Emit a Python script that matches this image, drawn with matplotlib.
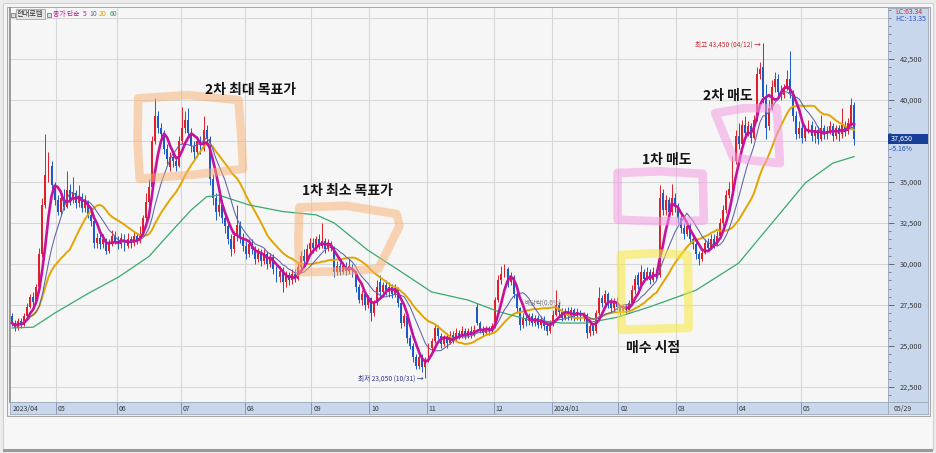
import matplotlib
matplotlib.use('Agg')
import matplotlib.pyplot as plt
import matplotlib.transforms as mtransforms
from matplotlib.patches import Rectangle, Polygon
from matplotlib.ticker import MultipleLocator
import numpy as np
import pandas as pd

plt.rcParams['font.family'] = ['Noto Sans CJK KR', 'DejaVu Sans']

# ---------------- data (daily candles, 2023/04 .. 2024/05/29) ----------------
opens = [
    # 2023/04
    26800, 26400, 26100, 26500, 26300, 26800, 27400, 28000, 27700, 28600, 30600, 33600, 35400, 36000, 34800,
    # 05
    33900, 33200, 34000, 33500, 34500, 33900, 34300, 33700, 34100, 33400, 33800, 33000, 32600, 31300, 31600, 31200, 31500, 30800, 31300, 31700,
    # 06
    31400, 31200, 31600, 31100, 31500, 31300, 31700, 31400, 31800, 32800, 33800, 34700, 37500, 39000, 38300, 37900, 37000, 35900, 36500, 36300, 36000,
    # 07
    37500, 38300, 38800, 38000, 37200, 36800, 37500, 37000, 38200, 37600, 35200, 34000, 33200, 33600, 32800, 32300, 31500, 30900, 31700, 32400, 31600,
    # 08
    31100, 30600, 31200, 30900, 30300, 30700, 30200, 30600, 30000, 30400, 29700, 29200, 29600, 28900, 29300, 29000, 29400, 29100, 29800, 30500, 30200, 30900,
    # 09
    31300, 31000, 31500, 31100, 31400, 30900, 31300, 31000, 29500, 29900, 29500, 29900, 29600, 29900, 29500, 28600, 27800, 28200, 27500,
    # 10
    27900, 27000, 27600, 28900, 28300, 28700, 28300, 28600, 28200, 28500, 27600, 26400, 26800, 25500, 25000, 24300, 23800, 24300, 23700,
    # 11
    24100, 24900, 25300, 26100, 25600, 25100, 25500, 25200, 25700, 25400, 25800, 25600, 25900, 25600, 25900, 25700, 27400, 26400, 26000, 25800, 26000, 25900,
    # 12
    26200, 27800, 29000, 29400, 29700, 28900, 29200, 28200, 27300, 26300, 26700, 26500, 26800, 26400, 26700, 26300, 26600, 26200, 25900,
    # 2024/01
    26400, 26900, 27500, 27100, 26700, 27100, 26800, 27200, 26800, 27100, 26700, 26900, 25800, 26200, 25900, 27000, 27900, 27600, 28200, 27600, 27300, 27700,
    # 02
    27400, 27100, 27300, 27200, 27600, 28400, 29300, 28700, 29500, 29100, 29500, 29000, 29500, 29300, 34300, 33300, 33900, 33200, 34000,
    # 03
    33500, 32800, 32200, 31800, 32300, 31500, 31200, 30600, 30300, 30700, 31300, 31000, 31500, 31200, 31700, 32500, 33300, 34200, 34600, 36300,
    # 04
    37800, 37300, 38500, 38000, 38400, 37700, 38800, 41600, 42000, 40200, 38400, 39500, 40800, 41300, 40500, 40300, 40700, 41300, 40400, 39000, 37900,
    # 05
    38300, 37700, 38200, 38500, 37800, 38200, 37600, 38300, 37900, 38100, 38400, 37800, 38300, 37900, 38500, 38100, 38600, 39700,
]
highs = [
    27000, 26600, 26700, 26700, 27000, 27600, 28200, 28300, 28800, 31000, 34000, 37900, 36800, 36300, 35000,
    34200, 34400, 34600, 35700, 34900, 35300, 34500, 34800, 34300, 34200, 33900, 33200, 32800, 31900, 31800, 31800, 31600, 31500, 32100, 32000,
    31700, 31900, 31800, 31900, 31700, 32000, 31900, 32300, 33000, 34300, 35200, 37800, 40100, 39300, 38600, 38200, 37300, 36800, 36900, 36600, 37800,
    39600, 39300, 39500, 38300, 37500, 37800, 37800, 39000, 38500, 37800, 35500, 34300, 34100, 33900, 33100, 32500, 31800, 32000, 33600, 32600, 31900,
    31400, 31500, 31500, 31100, 31000, 30900, 30900, 30800, 30700, 30600, 29900, 29900, 29800, 29600, 29500, 29700, 29700, 30100, 30800, 30900, 31200, 31600,
    31600, 31700, 31800, 32500, 31600, 31500, 31400, 31100, 30200, 30100, 30100, 30100, 30300, 30000, 29600, 28800, 28400, 28300, 28100,
    28000, 27800, 29000, 29300, 28900, 29000, 28900, 28800, 28800, 28600, 27700, 27000, 26900, 25700, 25200, 24500, 24500, 24500, 24300,
    25200, 25500, 26300, 26300, 25800, 25700, 25800, 25900, 25900, 26100, 26000, 26200, 26100, 26100, 26200, 26300, 27600, 26500, 26200, 26200, 26200, 26400,
    28000, 29300, 29900, 30000, 29800, 29500, 29300, 28400, 27400, 27000, 26900, 27000, 27000, 26900, 26900, 26800, 26800, 26400, 26600,
    27200, 28400, 27700, 27300, 27300, 27400, 27400, 27300, 27300, 27200, 27100, 27000, 26400, 26300, 27200, 28600, 28100, 28400, 28300, 27900, 27900, 28000,
    27500, 27500, 27500, 27800, 28700, 29300, 29500, 29950, 29700, 29800, 29700, 29800, 29700, 34800, 34600, 34200, 34100, 34900, 34300,
    33700, 33000, 32500, 32600, 32500, 31800, 31400, 30800, 30900, 31500, 31600, 31800, 31800, 32000, 32800, 33600, 34500, 35000, 36600, 38200,
    38600, 38800, 39000, 38700, 38600, 39100, 42000, 42300, 43450, 41000, 40000, 41200, 41700, 41600, 40900, 41000, 41800, 43000, 40600, 39300, 38700,
    38600, 38500, 38800, 38700, 38400, 38400, 39100, 38500, 38400, 38700, 38600, 38500, 38500, 39500, 38700, 38900, 40100, 39900,
]
lows = [
    26200, 25900, 26000, 26100, 26200, 26700, 27300, 27500, 27600, 28500, 30400, 33400, 35000, 34500, 33600,
    33000, 33000, 33300, 33400, 33600, 33700, 33400, 33500, 33200, 33200, 32800, 32300, 31000, 31000, 30900, 31000, 30600, 30700, 31100, 31200,
    30900, 31000, 30800, 31000, 31000, 31100, 31200, 31300, 31700, 32700, 33600, 34500, 37300, 38000, 37600, 36700, 36100, 35700, 35900, 35700, 35900,
    37300, 38000, 37800, 36800, 36400, 36500, 36700, 36900, 37300, 34800, 33600, 32700, 32900, 32500, 31900, 31200, 30500, 30700, 31400, 31300, 30800,
    30300, 30400, 30600, 30000, 30100, 29900, 30000, 29700, 29800, 29400, 28900, 28900, 28300, 28600, 28700, 28800, 28900, 29000, 29700, 29900, 30100, 30700,
    30700, 30800, 30900, 31000, 30700, 30800, 30800, 29200, 29300, 29300, 29400, 29300, 29400, 29200, 28300, 27600, 27500, 27200, 27300,
    26500, 26800, 27500, 28000, 28000, 28100, 28000, 27900, 28000, 27400, 26100, 26200, 25200, 24800, 24000, 23600, 23600, 23400, 23050,
    24000, 24700, 25200, 25400, 24900, 25000, 24900, 25100, 25200, 25300, 25400, 25500, 25400, 25500, 25500, 25600, 26300, 25800, 25600, 25700, 25700, 25800,
    26100, 27700, 28800, 29200, 28600, 28700, 27900, 27000, 26000, 26100, 26200, 26300, 26200, 26200, 26100, 26100, 26000, 25700, 25800,
    26200, 26800, 26900, 26500, 26600, 26600, 26600, 26500, 26600, 26500, 26500, 25500, 25600, 25700, 25800, 26900, 27400, 27400, 27300, 27000, 27100, 27200,
    26900, 27000, 27000, 27100, 27500, 28200, 28500, 28600, 28900, 29000, 28800, 28900, 29100, 29200, 33000, 33000, 32900, 33000, 33200,
    32500, 31900, 31500, 31700, 31200, 30900, 30300, 29950, 30200, 30600, 30800, 30900, 31000, 31100, 31600, 32300, 33100, 34000, 34500, 36100,
    37000, 37100, 37700, 37800, 37400, 37600, 38700, 41300, 39800, 37600, 38200, 39400, 40500, 40200, 40000, 40100, 40600, 40100, 38700, 37600, 37700,
    37400, 37500, 38000, 37500, 37400, 37300, 37500, 37600, 37600, 37900, 37500, 37600, 37500, 37700, 37800, 37900, 38400, 37250,
]
closes = [
    26400, 26100, 26500, 26300, 26800, 27400, 28000, 27700, 28600, 30600, 33600, 35400, 36200, 34800, 33900,
    33200, 34000, 33500, 34500, 33900, 34300, 33700, 34100, 33400, 33800, 33000, 32600, 31300, 31600, 31200, 31500, 30800, 31300, 31700, 31400,
    31200, 31600, 31100, 31500, 31300, 31700, 31400, 31800, 32800, 33800, 34700, 37500, 39000, 38300, 37900, 37000, 36400, 36500, 36300, 36000, 37500,
    38300, 38800, 38000, 37200, 36800, 37500, 37000, 38200, 37600, 35200, 34000, 33200, 33600, 32800, 32300, 31500, 30900, 31700, 32400, 31600, 31100,
    30600, 31200, 30900, 30300, 30700, 30200, 30600, 30000, 30400, 29700, 29200, 29600, 28900, 29300, 29000, 29400, 29100, 29800, 30500, 30200, 30900, 31300,
    31000, 31500, 31100, 31400, 30900, 31300, 31000, 29500, 29900, 29500, 29900, 29600, 29900, 29500, 28600, 27800, 28200, 27500, 27900,
    27000, 27600, 28600, 28300, 28700, 28300, 28600, 28200, 28500, 27600, 26400, 26800, 25500, 25000, 24300, 23800, 24300, 23700, 24100,
    24900, 25300, 26100, 25600, 25100, 25500, 25200, 25700, 25400, 25800, 25600, 25900, 25600, 25900, 25700, 26000, 26400, 26000, 25800, 26000, 25900, 26200,
    27800, 29000, 29400, 29700, 28900, 29200, 28200, 27300, 26300, 26700, 26500, 26800, 26400, 26700, 26300, 26600, 26200, 25900, 26400,
    26900, 27500, 27100, 26700, 27100, 26800, 27200, 26800, 27100, 26700, 26900, 25800, 26200, 25900, 27000, 27900, 27600, 28200, 27600, 27300, 27700, 27400,
    27100, 27300, 27200, 27600, 28400, 29100, 28700, 29500, 29100, 29500, 29000, 29500, 29300, 34000, 33300, 33900, 33200, 34000, 33500,
    32800, 32200, 31800, 32300, 31500, 31200, 30600, 30300, 30700, 31300, 31000, 31500, 31200, 31700, 32500, 33300, 34200, 34600, 36300, 37800,
    37300, 38500, 38000, 38400, 37700, 38800, 41600, 41900, 40200, 38300, 39500, 40800, 41300, 40500, 40300, 40700, 41300, 40400, 39000, 37900, 38300,
    37700, 38200, 38500, 37800, 38200, 37600, 38300, 37900, 38100, 38400, 37800, 38300, 37900, 38500, 38100, 38600, 39700, 37650,
]

# 60-day moving average (trading-day index, price)
ma60_idx = [0, 7, 14, 25, 35, 45, 53, 59, 64, 68, 78, 89, 100, 106, 117, 127, 138, 150,
            160, 170, 181, 189, 199, 210, 225, 239, 250, 261, 270, 277]
ma60_val = [26100, 26150, 27000, 28200, 29200, 30450, 32100, 33300, 34100, 34200, 33600, 33200,
            33000, 32500, 30850, 29650, 28300, 27800, 27100, 26600, 26400, 26400, 26750, 27400,
            28400, 30050, 32500, 34950, 36150, 36550]

month_labels = ['2023/04', '05', '06', '07', '08', '09', '10', '11', '12',
                '2024/01', '02', '03', '04', '05']
month_start = [0, 15, 35, 56, 77, 99, 118, 137, 159, 178, 200, 219, 239, 260]
last_date = '05/29'
# 37,500 label is hidden behind the current-price box in the reference
price_ticks = [22500, 25000, 27500, 30000, 32500, 35000, 40000, 42500]
grid_prices = [22500, 25000, 27500, 30000, 32500, 35000, 37500, 40000, 42500, 45000]

high_note = '최고 43,450 (04/12) →'
low_note = '최저 23,050 (10/31) →'

# hand-drawn highlight boxes (trading-day index, price) and their notes
box_orange1 = [(41.5, 40100), (58, 40300), (74.5, 40000), (75.5, 37600), (76, 35800),
               (60, 35450), (42, 35200), (41.3, 37600)]
box_orange2 = [(94.5, 33450), (110, 33550), (126.5, 33050), (127.5, 32350),
               (120.5, 29700), (108, 29550), (94.5, 29500), (94.2, 31500)]
box_pink1 = [(199.2, 35550), (213, 35650), (227.2, 35500), (227.6, 32650),
             (213, 32600), (199.2, 32700)]
box_pink2 = [(231.3, 39200), (241, 39500), (251.6, 39500), (252.6, 36150),
             (244, 36300), (237.2, 36500)]
box_yellow = [(200.3, 30550), (211, 30650), (222.3, 30550), (222.6, 26100),
              (211, 26050), (200.5, 26000)]
notes = [
    ('2차 최대 목표가', 78.3, 40620),
    ('1차 최소 목표가', 110.5, 34460),
    ('1차 매도', 215.5, 36330),
    ('2차 매도', 235.5, 40230),
    ('매수 시점', 210.9, 24870),
]

# ---------------- figure / layout ----------------
W, H = 936, 453
fig = plt.figure(figsize=(W / 100, H / 100), dpi=100)
fig.patch.set_facecolor('#ececec')


def rect(x0, y0, x1, y1):
    return [x0 / W, 1 - y1 / H, (x1 - x0) / W, (y1 - y0) / H]


fig.add_artist(Rectangle((3 / W, 1 - 449 / H), 930 / W, 446 / H, transform=fig.transFigure,
                         facecolor='#f7f7f7', edgecolor='#d0d0d0', lw=0.8, zorder=-10))
fig.add_artist(Rectangle((3 / W, 1 - 452 / H), 930 / W, 3 / H, transform=fig.transFigure,
                         facecolor='#9a9a9a', edgecolor='none', zorder=-10))
fig.add_artist(Rectangle((7 / W, 1 - 416 / H), 923 / W, 409 / H, transform=fig.transFigure,
                         facecolor='#f3f3f3', edgecolor='#a8a8a8', lw=0.8, zorder=-9))

STEP = 3.04
XL = ((10 - 12) / STEP, (888 - 12) / STEP)
PX_PER_2500 = 41.0
YL = (40000 - (402 - 100) * 2500 / PX_PER_2500, 40000 + (100 - 8) * 2500 / PX_PER_2500)

ax = fig.add_axes(rect(10, 8, 888, 402))
ax.set_xlim(*XL)
ax.set_ylim(*YL)
ax.set_facecolor('#f6f6f6')
ax.set_xticks([m - 0.5 for m in month_start[1:]])
ax.set_yticks(grid_prices)
ax.grid(True, color='#d7d7d7', lw=0.8)
ax.set_axisbelow(True)
ax.tick_params(length=0, labelbottom=False, labelleft=False)
for side in ['top', 'right', 'bottom']:
    ax.spines[side].set_visible(False)
ax.spines['left'].set_color('#8a8a8a')
ax.spines['left'].set_linewidth(1.2)

o = np.array(opens)
h = np.array(highs)
l = np.array(lows)
c = np.array(closes)
N = len(c)
idx = np.arange(N)
RED, BLUE = '#de1f2c', '#1c5ac4'
cols = np.where(c >= o, RED, BLUE)
ax.vlines(idx, l, h, colors=cols, lw=0.7, zorder=2)
ax.bar(idx, np.maximum(np.abs(c - o), 70), bottom=np.minimum(o, c), width=0.62,
       color=cols, linewidth=0, zorder=3)

s = pd.Series(c, dtype=float)
ax.plot(idx, s.rolling(20, min_periods=1).mean(), color='#e3a500', lw=1.4, zorder=4)
ax.plot(ma60_idx, ma60_val, color='#3aa96c', lw=0.9, zorder=4)
ax.plot(idx, s.rolling(10, min_periods=1).mean(), color='#5e62ab', lw=0.75, zorder=5)
ax.plot(idx, s.rolling(5, min_periods=1).mean(), color='#c4129d', lw=1.9, zorder=6)

# highlight boxes
for pts, col, a in [(box_orange1, '#f9b070', 0.5), (box_orange2, '#f9b070', 0.5),
                    (box_pink1, '#f49be3', 0.55), (box_pink2, '#f49be3', 0.55),
                    (box_yellow, '#f6e83a', 0.55)]:
    ax.add_patch(Polygon(pts, closed=True, fill=False, edgecolor=col, lw=6.2, alpha=a,
                         joinstyle='round', capstyle='round', zorder=7))

for txt, xx, yy in notes:
    ax.text(xx, yy, txt, fontsize=10, fontweight='bold', ha='center', va='center',
            color='#151515', zorder=8)

imax = int(np.argmax(h))
imin = int(np.argmin(l))
ax.text(imax - 0.6, h[imax] - 100, high_note, fontsize=4.8, color='#c4262e', ha='right',
        va='center', zorder=8)
ax.text(imin - 0.6, l[imin] - 50, low_note, fontsize=4.8, color='#2a3590', ha='right',
        va='center', zorder=8)
ax.text(168.5, 27600, '배당락(0.6%)', fontsize=4.6, color='#777777', ha='left',
        va='center', zorder=8)

# legend header
fig.add_artist(Rectangle((11 / W, 1 - 17 / H), 4 / W, 4 / H, transform=fig.transFigure,
                         facecolor='#dddddd', edgecolor='#666', lw=0.5))
fig.text(17 / W, 1 - 14 / H, '현대로템', fontsize=5.2, color='#333', va='center',
         bbox=dict(boxstyle='square,pad=0.15', fc='#e4e4e4', ec='#999', lw=0.5))
fig.add_artist(Rectangle((47 / W, 1 - 17 / H), 4 / W, 4 / H, transform=fig.transFigure,
                         facecolor='#dddddd', edgecolor='#666', lw=0.5))
for txt, xp, colr in [('종가 단순', 53, '#c4129d'), ('5', 83, '#c4129d'), ('10', 89, '#5e62ab'),
                      ('20', 99, '#d9a400'), ('60', 110, '#2f9a5e')]:
    fig.text(xp / W, 1 - 14 / H, txt, fontsize=4.9, color=colr, va='center')

# right price panel
axr = fig.add_axes(rect(888, 8, 928, 402))
axr.set_facecolor('#c8d7ec')
axr.set_ylim(*YL)
axr.set_xlim(0, 1)
axr.set_xticks([])
axr.set_yticks(price_ticks)
axr.set_yticklabels([f'{v:,}' for v in price_ticks])
axr.yaxis.set_minor_locator(MultipleLocator(500))
axr.tick_params(axis='y', which='major', direction='in', length=4, width=0.6, pad=-25,
                labelsize=5.3, colors='#555', labelcolor='#3a3a3a')
axr.tick_params(axis='y', which='minor', direction='in', length=2, width=0.5, colors='#666')
for sp in axr.spines.values():
    sp.set_color('#9aa6b8')
    sp.set_linewidth(0.6)

last = c[-1]
chg = (c[-1] - c[-2]) / c[-2] * 100
half = 5.0 * 2500 / PX_PER_2500
axr.add_patch(Rectangle((0, last - half), 1, 2 * half, facecolor='#173f98', edgecolor='none',
                        zorder=3))
trans = mtransforms.blended_transform_factory(axr.transAxes, axr.transData)
axr.text(0.06, last, f'{last:,}', transform=trans, fontsize=5.2, color='white', va='center',
         ha='left', zorder=4)
axr.text(0.06, last - half - 60, f'{chg:.2f}%', transform=trans, fontsize=4.9, color='#1f4fb8',
         va='top', ha='left', zorder=4)
fig.text(895 / W, 1 - 12 / H, 'LC:63.34', fontsize=5, color='#d42a2a', va='center')
fig.text(895 / W, 1 - 19 / H, 'HC:-13.35', fontsize=5, color='#2a55c0', va='center')

# date bar
axd = fig.add_axes(rect(10, 402, 888, 414))
axd.set_facecolor('#c8d7ec')
axd.set_xlim(*XL)
axd.set_ylim(0, 1)
axd.set_xticks([])
axd.set_yticks([])
for sp in axd.spines.values():
    sp.set_color('#9aa6b8')
    sp.set_linewidth(0.6)
for m, lab in zip(month_start, month_labels):
    if m > 0:
        axd.axvline(m - 0.5, color='#8c9ab5', lw=0.7)
    axd.text(m - 0.5 + 0.6, 0.45, lab, fontsize=5, color='#3a3a3a', va='center', ha='left')

axdr = fig.add_axes(rect(888, 402, 928, 414))
axdr.set_facecolor('#c8d7ec')
axdr.set_xticks([])
axdr.set_yticks([])
for sp in axdr.spines.values():
    sp.set_color('#9aa6b8')
    sp.set_linewidth(0.6)
axdr.text(0.15, 0.45, last_date, fontsize=5, color='#3a3a3a', va='center', ha='left',
          transform=axdr.transAxes)

fig.savefig('out.png', dpi=100, facecolor=fig.get_facecolor())
